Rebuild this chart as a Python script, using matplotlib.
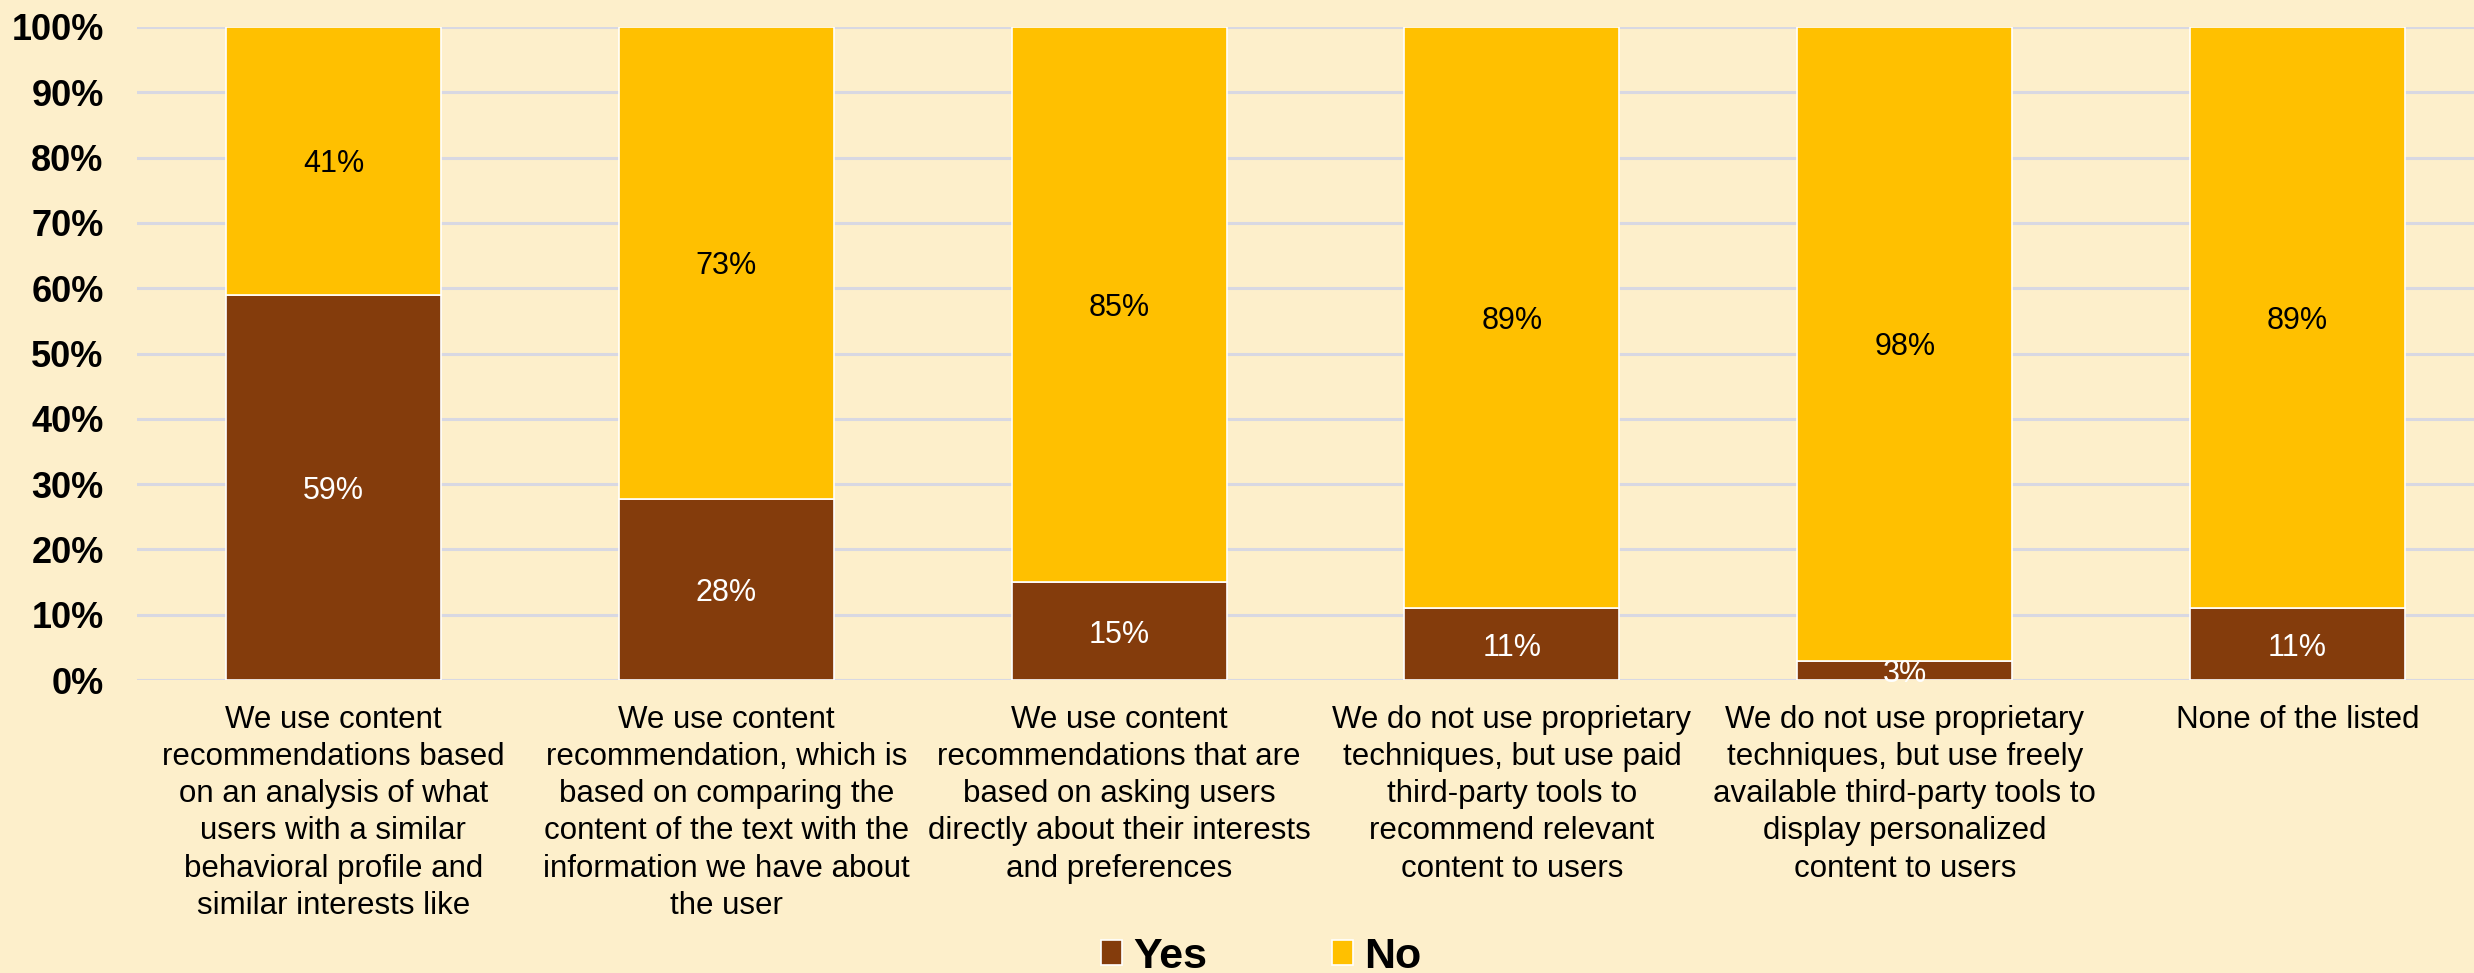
import matplotlib
matplotlib.use("Agg")
import matplotlib.pyplot as plt
import numpy as np

categories = [
    "We use content\nrecommendations based\non an analysis of what\nusers with a similar\nbehavioral profile and\nsimilar interests like",
    "We use content\nrecommendation, which is\nbased on comparing the\ncontent of the text with the\ninformation we have about\nthe user",
    "We use content\nrecommendations that are\nbased on asking users\ndirectly about their interests\nand preferences",
    "We do not use proprietary\ntechniques, but use paid\nthird-party tools to\nrecommend relevant\ncontent to users",
    "We do not use proprietary\ntechniques, but use freely\navailable third-party tools to\ndisplay personalized\ncontent to users",
    "None of the listed",
]
yes_pct = [59, 28, 15, 11, 3, 11]
no_pct = [41, 73, 85, 89, 98, 89]
y_ticks = [0, 10, 20, 30, 40, 50, 60, 70, 80, 90, 100]

YES_COLOR = "#843C0C"
NO_COLOR = "#FFC000"
BG = "#FDEFCB"
GRID = "#D8D8E2"

plt.rcParams["font.family"] = ["Liberation Sans", "DejaVu Sans"]

W, H = 2474, 973
fig = plt.figure(figsize=(W / 100, H / 100), dpi=100, facecolor=BG)
ax = fig.add_axes([137 / W, 1 - 680 / H, (2494 - 137) / W, (680 - 27) / H])
ax.set_facecolor("none")

# 100% stacked: each column is scaled by its own total
yes = np.array(yes_pct, dtype=float)
no = np.array(no_pct, dtype=float)
total = yes + no
yes_share = yes / total * 100
no_share = no / total * 100

x = np.arange(len(categories))
bw = 0.547
ax.bar(x, yes_share, width=bw, color=YES_COLOR, edgecolor="white",
       linewidth=1.2, label="Yes", zorder=3)
ax.bar(x, no_share, width=bw, bottom=yes_share, color=NO_COLOR,
       edgecolor="white", linewidth=1.2, label="No", zorder=3)

for xi, ys, ns, yv, nv in zip(x, yes_share, no_share, yes_pct, no_pct):
    ax.text(xi, ys / 2, f"{yv}%", ha="center", va="center_baseline",
            color="white", fontsize=22, zorder=4)
    ax.text(xi, ys + ns / 2, f"{nv}%", ha="center", va="center_baseline",
            color="black", fontsize=22, zorder=4)

ax.set_xlim(-0.5, len(categories) - 0.5)
ax.set_ylim(0, 100)
ax.set_yticks(y_ticks)
ax.set_yticklabels([f"{t}%" for t in y_ticks], fontsize=26, fontweight="bold")
ax.set_xticks(x)
ax.set_xticklabels(categories, fontsize=22.5, linespacing=1.31)
ax.tick_params(axis="both", length=0)
ax.tick_params(axis="y", pad=24)
ax.tick_params(axis="x", pad=18)
ax.yaxis.grid(True, color=GRID, linewidth=2.2, zorder=0)
for s in ax.spines.values():
    s.set_visible(False)

leg = fig.legend(loc="center", bbox_to_anchor=(1261 / W, 1 - 957 / H), ncol=2,
                 frameon=False, handlelength=0.5, handleheight=0.5,
                 handletextpad=0.25, columnspacing=2.9, borderpad=0,
                 prop={"size": 31, "weight": "bold"})

fig.savefig("out.png", dpi=100, facecolor=BG)
